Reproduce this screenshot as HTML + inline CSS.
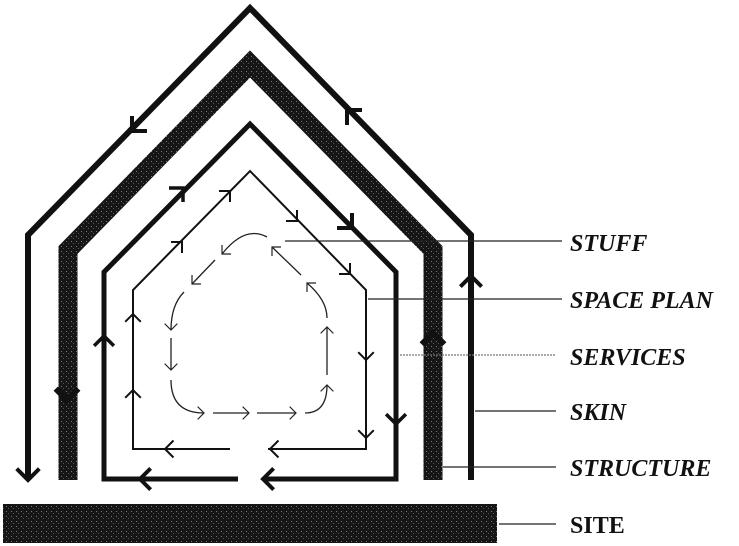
<!DOCTYPE html>
<html><head><meta charset="utf-8"><style>
html,body{margin:0;padding:0;background:#fff;}
svg{display:block;}
.lbl{font-family:"Liberation Serif",serif;font-style:italic;font-weight:bold;font-size:24px;fill:#111;}
</style></head><body>
<svg id="d" width="739" height="546" viewBox="0 0 739 546">
<defs>
<pattern id="stip" width="5" height="5" patternUnits="userSpaceOnUse">
<rect width="5" height="5" fill="#161616"/><rect x="1" y="1" width="1" height="1" fill="#777"/><rect x="3" y="3" width="1" height="1" fill="#555"/>
</pattern>
</defs>
<g fill="none" stroke-linejoin="miter" stroke-linecap="butt">
<polyline points="28,480 28,235 250,8 471,235 471,480" stroke="#111" stroke-width="6"/>
<polyline points="68,480 68,250 250,64 433,250 433,480" stroke="url(#stip)" stroke-width="19"/>
<polyline points="238,479 104,479 104,272 250,124 396,272 396,479 263,479" stroke="#111" stroke-width="5"/>
<polyline points="230,449 133,449 133,290 250,171 366,290 366,449 268,449" stroke="#111" stroke-width="2"/>
<path stroke="#222" stroke-width="1.3" d="M267,237 Q245,225 222,254 M215,260 L192,284 M184,292 Q171,305 171,330 M171,338 L171,370 M171,380 Q171,413 204,413 M213,413 L249,413 M257,413 L296,413 M305,413 Q327,413 327,385 M327,375 L327,327 M327,318 Q327,300 307,283 M301,275 L272,247"/>
<rect x="3" y="504" width="494" height="39" fill="url(#stip)" stroke="none"/>
</g>
<g id="arrows" fill="none" stroke-linecap="butt"></g>
<g stroke="#222" stroke-width="1.3">
<line x1="285" y1="241" x2="562" y2="241"/>
<line x1="368" y1="299" x2="562" y2="299"/>
<line x1="400" y1="355" x2="556" y2="355" stroke="#777" stroke-dasharray="2,1"/>
<line x1="475" y1="411" x2="556" y2="411"/>
<line x1="443" y1="467" x2="556" y2="467"/>
<line x1="499" y1="524" x2="556" y2="524"/>
</g>
<text class="lbl" x="570" y="251">STUFF</text>
<text class="lbl" x="570" y="308">SPACE PLAN</text>
<text class="lbl" x="570" y="365">SERVICES</text>
<text class="lbl" x="570" y="420">SKIN</text>
<text class="lbl" x="570" y="476">STRUCTURE</text>
<text class="lbl" x="570" y="533" style="font-style:normal">SITE</text>
</svg>
<script>
// arrow heads: [tipX, tipY, directionDeg(0=right,90=down), armLength, strokeWidth]
const skinArrows=[[28,480,90,16,4],[132,131,135,15,4],[347,110,225,15,4],[471,276,270,15,4]];
const structureArrows=[[67,400,90,16,6],[433,333,270,16,6],[352,228,45,15,4]];
const servicesArrows=[[104,336,270,14,3.5],[140,479,180,15,4],[263,479,180,15,4],[396,424,90,14,3.5],[183,188,315,14,3.5]];
const spaceArrows=[[133,314,270,11,2],[133,390,270,11,2],[182,242,315,11,2],[230,191,315,11,2],[297,221,45,11,2],[350,274,45,11,2],[366,360,90,11,2],[366,438,90,11,2],[165,449,180,12,2],[270,449,180,12,2]];
const stuffArrows=[[222,254,135,9,1.2],[192,284,135,9,1.2],[171,330,90,9,1.2],[171,370,90,9,1.2],[204,413,0,9,1.2],[249,413,0,9,1.2],[296,413,0,9,1.2],[327,385,270,9,1.2],[327,327,270,9,1.2],[307,283,225,9,1.2],[272,247,225,9,1.2]];
const g=document.getElementById('arrows');
function draw(list,name,color){
  list.forEach(a=>{
    const [x,y,deg,len,w]=a;
    const r=deg*Math.PI/180;
    const p=document.createElementNS('http://www.w3.org/2000/svg','polyline');
    const b1=r+Math.PI-Math.PI/4, b2=r+Math.PI+Math.PI/4;
    p.setAttribute('points',(x+len*Math.cos(b1))+','+(y+len*Math.sin(b1))+' '+x+','+y+' '+(x+len*Math.cos(b2))+','+(y+len*Math.sin(b2)));
    p.setAttribute('stroke',color);
    p.setAttribute('stroke-width',w);
    
    
    g.appendChild(p);
  });
}
draw(skinArrows,'skin-arrow','#111');
draw(structureArrows,'structure-arrow','#111');
draw(servicesArrows,'services-arrow','#111');
draw(spaceArrows,'space-plan-arrow','#111');
draw(stuffArrows,'stuff-arrow','#222');
</script>
</body></html>
